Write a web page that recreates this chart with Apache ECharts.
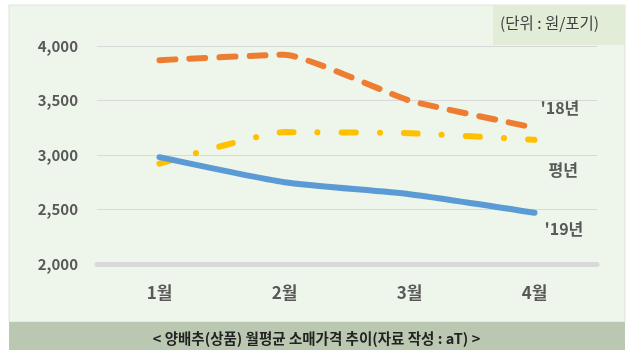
<!DOCTYPE html>
<html><head><meta charset="utf-8">
<script src="https://cdn.jsdelivr.net/npm/echarts@6/dist/echarts.min.js"></script>
<style>html,body{margin:0;padding:0;background:#fff}#c{width:633px;height:362px}</style>
</head><body><div id="c"></div>
<script>
const categories = ['1월', '2월', '3월', '4월'];
const y18 = [3870, 3920, 3500, 3250];
const yAvg = [2920, 3210, 3200, 3140];
const y19 = [2980, 2750, 2640, 2470];
const yTicks = [2000, 2500, 3000, 3500, 4000];
const seriesNames = ["'18년", '평년', "'19년"];
const unitText = '(단위 : 원/포기)';
const captionText = '< 양배추(상품) 월평균 소매가격 추이(자료 작성 : aT) >';

const font = '"Noto Sans CJK KR", "Noto Sans", sans-serif';
const chart = echarts.init(document.getElementById('c'), null, {renderer: 'canvas'});
function endLbl(name, dx, dy) {
  return {show: true, formatter: name, offset: [dx, dy], color: '#595959',
    fontFamily: font, fontWeight: 'bold', fontSize: 16};
}
chart.setOption({
  animation: false,
  textStyle: {fontFamily: font},
  graphic: [
    {type: 'rect', shape: {x: 9, y: 5, width: 616, height: 317}, style: {fill: '#eef5ea', stroke: '#dde3da', lineWidth: 1}, z: -10},
    {type: 'rect', shape: {x: 493, y: 5, width: 132, height: 40}, style: {fill: '#e2edd8'}, z: -9},
    {type: 'text', left: 500, top: 15, style: {text: unitText, fill: '#404040', font: '15.5px ' + font}, z: 5},
    {type: 'rect', shape: {x: 9, y: 322, width: 616, height: 28}, style: {fill: '#bbc8b1'}, z: -9},
    {type: 'text', left: 'center', top: 331, style: {text: captionText, fill: '#222', font: 'bold 14.5px ' + font}, z: 5}
  ],
  grid: {left: 97, right: 36, top: 46, bottom: 98},
  xAxis: {
    type: 'category', data: categories, boundaryGap: true,
    axisLine: {lineStyle: {color: '#d9d9d9', width: 5}},
    axisTick: {show: false},
    axisLabel: {color: '#595959', fontWeight: 'bold', fontSize: 17, margin: 20, fontFamily: font}
  },
  yAxis: {
    type: 'value', min: yTicks[0], max: yTicks[yTicks.length - 1], interval: 500,
    axisLine: {show: false}, axisTick: {show: false},
    splitLine: {lineStyle: {color: '#d9d9d9', width: 1}},
    axisLabel: {color: '#595959', fontWeight: 'bold', fontSize: 15, margin: 19, fontFamily: font,
      formatter: v => v.toLocaleString('en-US')}
  },
  series: [
    {name: seriesNames[0], type: 'line', data: y18, smooth: 0.15, symbol: 'none', z: 3,
      lineStyle: {color: '#ED7D31', width: 6, type: [16, 14], cap: 'round'},
      endLabel: endLbl(seriesNames[0], -2, -20)},
    {name: seriesNames[1], type: 'line', data: yAvg, smooth: 0.15, symbol: 'none', z: 2,
      lineStyle: {color: '#FFC000', width: 6, type: [14, 24, 0.1, 24], cap: 'round'},
      endLabel: endLbl(seriesNames[1], 6, 30)},
    {name: seriesNames[2], type: 'line', data: y19, smooth: 0.2, symbol: 'none', z: 4,
      lineStyle: {color: '#5B9BD5', width: 6, cap: 'round'},
      endLabel: endLbl(seriesNames[2], 2, 16)}
  ]
});
</script></body></html>
